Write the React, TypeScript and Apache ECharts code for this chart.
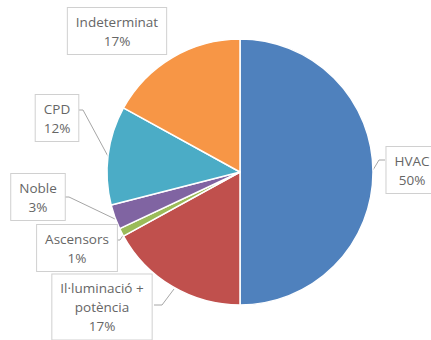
import React, { useEffect, useRef } from "react";
import * as echarts from "echarts";

const categories = ["HVAC", "Il·luminació + potència", "Ascensors", "Noble", "CPD", "Indeterminat"];
const values = [50, 17, 1, 3, 12, 17];
const colors = ["#4F81BD", "#C0504D", "#9BBB59", "#8064A2", "#4BACC6", "#F79646"];

// label box centres and leader lines (layout only)
const labelCentres: [number, number][] = [
  [412, 170],
  [102, 307],
  [77, 248],
  [38, 197],
  [57, 118],
  [117, 31],
];
const leaderLines: [number, number][][] = [
  [[373, 170], [379, 160], [385, 160]],
  [[174, 289], [162, 305], [154, 305]],
  [[124, 234], [120, 240], [115, 240]],
  [[115, 219], [69, 197], [63, 197]],
  [[110, 160], [83, 110], [77, 110]],
  [],
];

export default function App() {
  const ref = useRef<HTMLDivElement>(null);
  useEffect(() => {
    if (!ref.current) return;
    const chart = echarts.init(ref.current, null, { renderer: "svg" });
    chart.setOption({
      animation: false,
      backgroundColor: "#ffffff",
      series: [
        {
          type: "pie",
          center: [240, 172],
          radius: 133,
          startAngle: 90,
          clockwise: true,
          percentPrecision: 0,
          avoidLabelOverlap: false,
          itemStyle: { borderColor: "#ffffff", borderWidth: 1.5 },
          data: categories.map((c, i) => ({
            name: c,
            value: values[i],
            itemStyle: { color: colors[i] },
            labelLine: { show: leaderLines[i].length > 0 },
          })),
          label: {
            show: true,
            position: "outside",
            formatter: (p: any) => p.name.replace(" + ", " +\n") + "\n" + p.percent + "%",
            color: "#666666",
            fontFamily: "Open Sans",
            fontSize: 13.5,
            lineHeight: 19,
            align: "center",
            backgroundColor: "#ffffff",
            borderColor: "#d0d0d0",
            borderWidth: 1,
            padding: [4, 8],
          },
          labelLine: {
            show: true,
            lineStyle: { color: "#a6a6a6", width: 1 },
          },
          labelLayout: (params: any) => {
            const i = params.dataIndex;
            const c = labelCentres[i];
            const out: any = {
              x: c[0],
              y: c[1],
              align: "center",
              verticalAlign: "middle",
            };
            if (leaderLines[i].length) out.labelLinePoints = leaderLines[i];
            return out;
          },
        },
      ],
    });
    return () => chart.dispose();
  }, []);
  return (
    <div
      ref={ref}
      style={{ position: "absolute", left: 0, top: 0, width: 431, height: 340 }}
    />
  );
}
